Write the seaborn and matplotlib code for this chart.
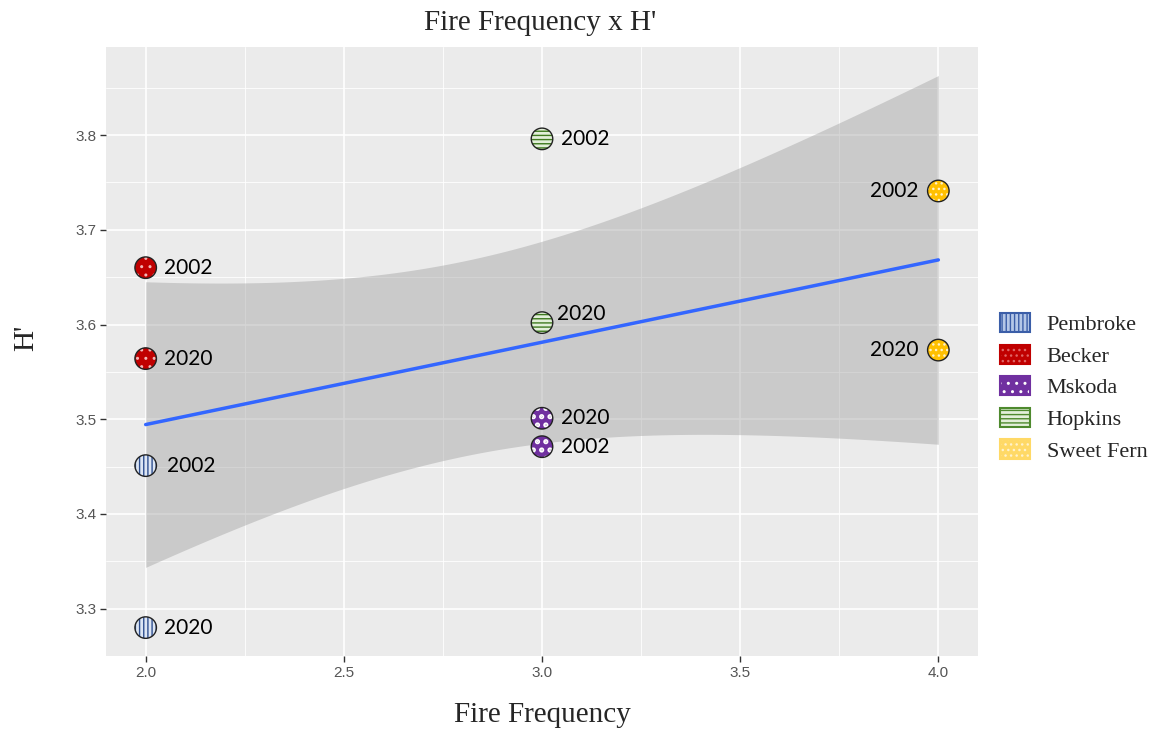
import matplotlib
matplotlib.use("Agg")
import matplotlib.pyplot as plt
from matplotlib.patches import Patch
from matplotlib.legend_handler import HandlerTuple
import seaborn as sns
import pandas as pd
import numpy as np

# ---- data ----
sites = ["Pembroke", "Pembroke", "Becker", "Becker", "Mskoda", "Mskoda",
         "Hopkins", "Hopkins", "Sweet Fern", "Sweet Fern"]
years = ["2002", "2020", "2002", "2020", "2002", "2020",
         "2002", "2020", "2002", "2020"]
fire_frequency = [2, 2, 2, 2, 3, 3, 3, 3, 4, 4]
h_prime = [3.451, 3.280, 3.660, 3.564, 3.471, 3.501,
           3.796, 3.602, 3.741, 3.573]
legend_sites = ["Pembroke", "Becker", "Mskoda", "Hopkins", "Sweet Fern"]
x_ticks = [2.0, 2.5, 3.0, 3.5, 4.0]
y_ticks = [3.3, 3.4, 3.5, 3.6, 3.7, 3.8]

df = pd.DataFrame({"Site": sites, "Year": years,
                   "Fire Frequency": fire_frequency, "H'": h_prime})

# ---- styles ----
site_style = {
    "Pembroke":   dict(face="#dde6f4", hatchc="#2f4f8f", hatch="||||", hlw=1.0,
                       lface="#b4c7e7", lhatch="#3b5ea8", ledge="#3b5ea8", lhatchp="||||", llw=1.0),
    "Becker":     dict(face="#c00000", hatchc="#f2b8b8", hatch="..", hlw=1.0,
                       lface="#c00000", lhatch="#e06666", ledge="#c00000", lhatchp="...", llw=1.0),
    "Mskoda":     dict(face="#7030a0", hatchc="#ffffff", hatch="..", hlw=2.5,
                       lface="#7030a0", lhatch="#ffffff", ledge="#7030a0", lhatchp="..", llw=2.5),
    "Hopkins":    dict(face="#e2efd9", hatchc="#3f7a1f", hatch="----", hlw=1.0,
                       lface="#e2efd9", lhatch="#4e8a2e", ledge="#4e8a2e", lhatchp="----", llw=1.0),
    "Sweet Fern": dict(face="#ffc000", hatchc="#fff2cc", hatch="...", hlw=1.0,
                       lface="#ffd966", lhatch="#fff2cc", ledge="#ffd966", lhatchp="...", llw=1.0),
}
# label offsets in points (dx, dy, ha)
label_offsets = [(15, 0, "left"), (13, 0, "left"), (13, 0, "left"), (13, 0, "left"),
                 (14, 0, "left"), (14, 0, "left"), (14, 0, "left"), (11, 6, "left"),
                 (-14, 0, "right"), (-14, 0, "right")]

sns.set_theme(style="darkgrid")

fig = plt.figure(figsize=(11.59, 7.31), dpi=100)
ax = fig.add_axes([0.0915, 0.1026, 0.7523, 0.8331])
ax.set_facecolor("#EBEBEB")

# regression line via seaborn; analytic 95% confidence band (as in ggplot's lm)
sns.regplot(data=df, x="Fire Frequency", y="H'", scatter=False, ci=None, ax=ax,
            color="#3366FF", line_kws=dict(linewidth=2.5, zorder=3))
xa = np.asarray(fire_frequency, float)
ya = np.asarray(h_prime, float)
n = len(xa)
slope, intercept = np.polyfit(xa, ya, 1)
resid = ya - (intercept + slope * xa)
s_err = np.sqrt(np.sum(resid ** 2) / (n - 2))
sxx = np.sum((xa - xa.mean()) ** 2)
try:
    from scipy import stats
    tval = stats.t.ppf(0.975, n - 2)
except Exception:
    tval = 2.306004135  # t quantile 0.975, df = 8
xg = np.linspace(xa.min(), xa.max(), 200)
yg = intercept + slope * xg
half = tval * s_err * np.sqrt(1 / n + (xg - xa.mean()) ** 2 / sxx)
ax.fill_between(xg, yg - half, yg + half, color="#999999", alpha=0.4,
                linewidth=0, zorder=2)

for site in legend_sites:
    sub = df[df["Site"] == site]
    st = site_style[site]
    plt.rcParams["hatch.linewidth"] = st["hlw"]
    ax.scatter(sub["Fire Frequency"], sub["H'"], s=240, facecolor=st["face"],
               edgecolor=st["hatchc"], hatch=st["hatch"], linewidth=0, zorder=5)
    ax.scatter(sub["Fire Frequency"], sub["H'"], s=240, facecolor="none",
               edgecolor="#222222", linewidth=1.0, zorder=6)
plt.rcParams["hatch.linewidth"] = 1.0

for (xv, yv, yr), (dx, dy, ha) in zip(zip(fire_frequency, h_prime, years), label_offsets):
    ax.annotate(yr, (xv, yv), xytext=(dx, dy), textcoords="offset points",
                ha=ha, va="center", fontsize=15, family="Lato", color="black", zorder=7)

ax.set_xlim(1.9, 4.1)
ax.set_ylim(3.251, 3.893)
ax.set_xticks(x_ticks)
ax.set_yticks(y_ticks)
ax.set_xticklabels([f"{v:.1f}" for v in x_ticks])
ax.set_yticklabels([f"{v:.1f}" for v in y_ticks])
ax.set_xticks([2.25, 2.75, 3.25, 3.75], minor=True)
ax.set_yticks([3.25, 3.35, 3.45, 3.55, 3.65, 3.75, 3.85], minor=True)
ax.grid(which="major", color="white", linewidth=1.2)
ax.grid(which="minor", color="white", linewidth=0.6)
ax.tick_params(which="major", axis="both", length=4, width=1, color="#333333",
               labelcolor="#555555", labelsize=11, pad=3, bottom=True, left=True)
ax.tick_params(which="minor", length=0)
for lab in ax.get_xticklabels() + ax.get_yticklabels():
    lab.set_family("Liberation Sans")
for sp in ax.spines.values():
    sp.set_visible(False)

ax.set_xlabel("Fire Frequency", family="Liberation Serif", fontsize=21, labelpad=16)
ax.set_ylabel("H'", family="Liberation Serif", fontsize=21)
ax.yaxis.set_label_coords(-0.077, 0.522)
fig.text(0.466, 0.968, "Fire Frequency x H'", family="Liberation Serif", fontsize=21,
         ha="center", va="center")

handles = []
for s in legend_sites:
    st = site_style[s]
    plt.rcParams["hatch.linewidth"] = st["llw"]
    hp = Patch(facecolor=st["lface"], edgecolor=st["lhatch"], hatch=st["lhatchp"],
               linewidth=0)
    ep = Patch(facecolor="none", edgecolor=st["ledge"], linewidth=1.5)
    handles.append((hp, ep))
plt.rcParams["hatch.linewidth"] = 1.0
leg = fig.legend(handles=handles, labels=legend_sites,
                 handler_map={tuple: HandlerTuple(ndivide=1, pad=0)},
                 loc="upper left", bbox_to_anchor=(0.8456, 0.599),
                 frameon=False, prop=dict(family="Liberation Serif", size=16),
                 handlelength=1.35, handleheight=0.95, handletextpad=0.75,
                 labelspacing=0.42)

fig.savefig("out.png", dpi=100)
